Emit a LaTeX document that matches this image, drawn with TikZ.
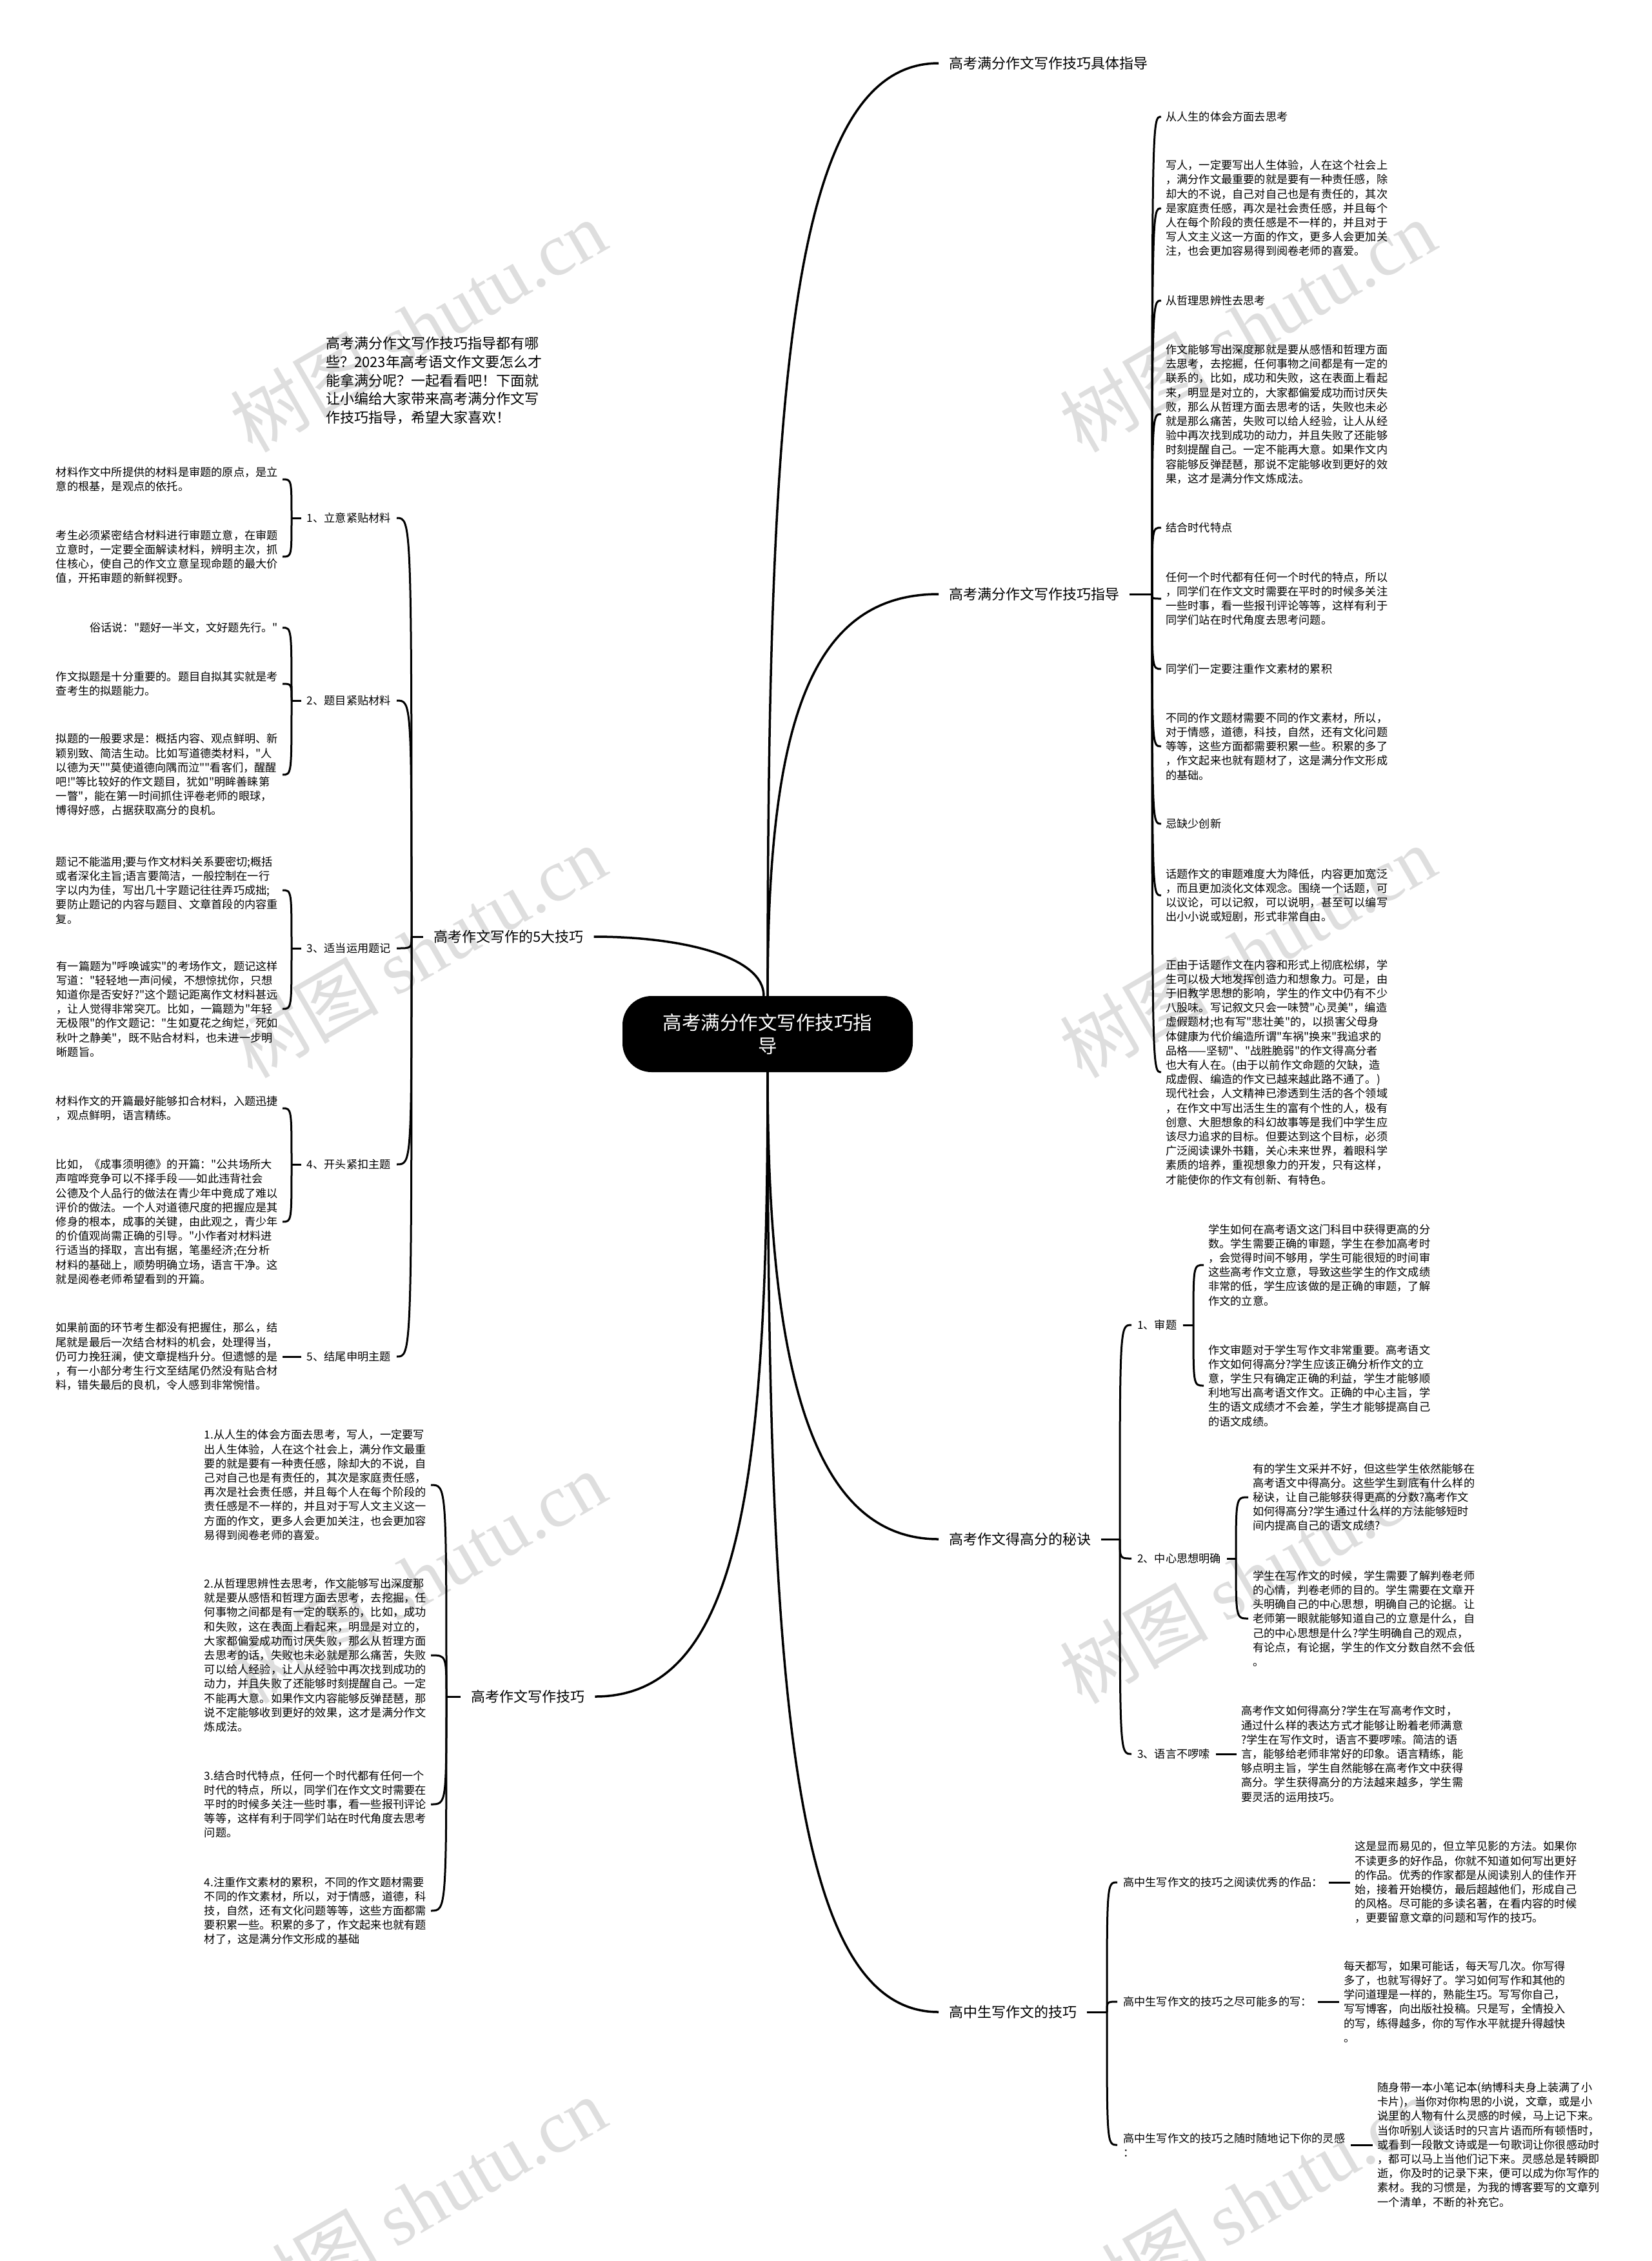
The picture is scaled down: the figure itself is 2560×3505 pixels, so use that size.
\documentclass[tikz,border=0pt]{standalone}
\usepackage{fontspec}
\setmainfont{Noto Sans CJK SC}[Ligatures=TeXOff]
\newfontfamily\wmfont{Liberation Serif}
\usetikzlibrary{
    positioning,
    calc,
}

\begin{document}
\begin{tikzpicture}[
    x=1pt, y=-1pt,
    root/.style={fill=black, text=white, rounded corners=45pt, minimum width=450pt, minimum height=118pt, align=center, font=\fontsize{29.5}{36}\selectfont},
    branch/.style={inner xsep=16pt, inner ysep=4pt, font=\fontsize{22}{28}\selectfont},
    topic/.style={inner xsep=9pt, inner ysep=3pt, align=left, font=\fontsize{17.2}{22.2}\selectfont},
    leaf/.style={inner xsep=7pt, inner ysep=0pt, align=left, font=\fontsize{17.2}{22.2}\selectfont},
    intro/.style={inner sep=0pt, align=left, font=\fontsize{22}{28.7}\selectfont},
    link/.style={line width=3pt},
    trunk/.style={line width=3.5pt},
    wmark/.style={text=black!13, rotate=30, font=\fontsize{115}{115}\selectfont},
]

\fill[white] (0,0) rectangle (2560,3505);
\useasboundingbox (0,0) rectangle (2560,3505);

% watermarks
\foreach \x in {648,1934}
    \foreach \y in {505,1475,2445,3415}
        \node[wmark] (wm-\x-\y) at (\x,\y) {树图 {\wmfont shutu.cn}};

% centre
\node[root] (root) at (1190,1603) {高考满分作文写作技巧指\\导};

% main branches
\node[branch, anchor=west] (b1) at (1455,98) {高考满分作文写作技巧具体指导};
\node[branch, anchor=west] (b2) at (1455,921) {高考满分作文写作技巧指导};
\node[branch, anchor=west] (b3) at (1455,2386) {高考作文得高分的秘诀};
\node[branch, anchor=west] (b4) at (1455,3119) {高中生写作文的技巧};
\node[branch, anchor=west] (b5) at (656,1452) {高考作文写作的5大技巧};
\node[branch, anchor=west] (b6) at (714,2630) {高考作文写作技巧};

\node[intro, anchor=west] (intro) at (505,590) {高考满分作文写作技巧指导都有哪\\些？2023年高考语文作文要怎么才\\能拿满分呢？一起看看吧！下面就\\让小编给大家带来高考满分作文写\\作技巧指导，希望大家喜欢！};

\draw[trunk] (root.north) .. controls +(0,-950) and +(-230,0) .. (b1.west);
\draw[trunk] (root.north) .. controls +(0,-420) and +(-200,0) .. (b2.west);
\draw[trunk] ([xshift=-6pt]root.north) .. controls +(0,-60) and +(140,0) .. (b5.east);
\draw[trunk] (root.south) .. controls +(0,450) and +(-200,0) .. (b3.west);
\draw[trunk] (root.south) .. controls +(0,950) and +(-230,0) .. (b4.west);
\draw[trunk] (root.south) .. controls +(0,620) and +(230,0) .. (b6.east);

% right: 写作技巧指导
\coordinate (j2) at (1786,921);
\draw[link] (b2.east) -- (j2);
\node[leaf, anchor=west] (r1) at (1800,181) {从人生的体会方面去思考};
\node[leaf, anchor=west] (r2) at (1800,323) {写人，一定要写出人生体验，人在这个社会上\\，满分作文最重要的就是要有一种责任感，除\\却大的不说，自己对自己也是有责任的，其次\\是家庭责任感，再次是社会责任感，并且每个\\人在每个阶段的责任感是不一样的，并且对于\\写人文主义这一方面的作文，更多人会更加关\\注，也会更加容易得到阅卷老师的喜爱。};
\node[leaf, anchor=west] (r3) at (1800,466) {从哲理思辨性去思考};
\node[leaf, anchor=west] (r4) at (1800,642) {作文能够写出深度那就是要从感悟和哲理方面\\去思考，去挖掘，任何事物之间都是有一定的\\联系的，比如，成功和失败，这在表面上看起\\来，明显是对立的，大家都偏爱成功而讨厌失\\败，那么从哲理方面去思考的话，失败也未必\\就是那么痛苦，失败可以给人经验，让人从经\\验中再次找到成功的动力，并且失败了还能够\\时刻提醒自己。一定不能再大意。如果作文内\\容能够反弹琵琶，那说不定能够收到更好的效\\果，这才是满分作文炼成法。};
\node[leaf, anchor=west] (r5) at (1800,818) {结合时代特点};
\node[leaf, anchor=west] (r6) at (1800,928) {任何一个时代都有任何一个时代的特点，所以\\，同学们在作文文时需要在平时的时候多关注\\一些时事，看一些报刊评论等等，这样有利于\\同学们站在时代角度去思考问题。};
\node[leaf, anchor=west] (r7) at (1800,1037) {同学们一定要注重作文素材的累积};
\node[leaf, anchor=west] (r8) at (1800,1157) {不同的作文题材需要不同的作文素材，所以，\\对于情感，道德，科技，自然，还有文化问题\\等等，这些方面都需要积累一些。积累的多了\\，作文起来也就有题材了，这是满分作文形成\\的基础。};
\node[leaf, anchor=west] (r9) at (1800,1277) {忌缺少创新};
\node[leaf, anchor=west] (r10) at (1800,1388) {话题作文的审题难度大为降低，内容更加宽泛\\，而且更加淡化文体观念。围绕一个话题，可\\以议论，可以记叙，可以说明，甚至可以编写\\出小小说或短剧，形式非常自由。};
\node[leaf, anchor=west] (r11) at (1800,1662) {正由于话题作文在内容和形式上彻底松绑，学\\生可以极大地发挥创造力和想象力。可是，由\\于旧教学思想的影响，学生的作文中仍有不少\\八股味。写记叙文只会一味赞"心灵美"，编造\\虚假题材;也有写"悲壮美"的，以损害父母身\\体健康为代价编造所谓"车祸"换来"我追求的\\品格——坚韧"、"战胜脆弱"的作文得高分者\\也大有人在。(由于以前作文命题的欠缺，造\\成虚假、编造的作文已越来越此路不通了。)\\现代社会，人文精神已渗透到生活的各个领域\\，在作文中写出活生生的富有个性的人，极有\\创意、大胆想象的科幻故事等是我们中学生应\\该尽力追求的目标。但要达到这个目标，必须\\广泛阅读课外书籍，关心未来世界，着眼科学\\素质的培养，重视想象力的开发，只有这样，\\才能使你的作文有创新、有特色。};
\foreach \i in {1,...,11}
    \draw[link] (j2) .. controls (j2 |- r\i.west) .. (r\i.west);

% right: 得高分的秘诀
\coordinate (j3) at (1736,2386);
\draw[link] (b3.east) -- (j3);
\node[topic, anchor=west] (s1) at (1754,2054) {1、审题};
\node[topic, anchor=west] (s2) at (1754,2416) {2、中心思想明确};
\node[topic, anchor=west] (s3) at (1754,2719) {3、语言不啰嗦};
\foreach \i in {1,2,3}
    \draw[link] (j3) .. controls (j3 |- s\i.west) .. (s\i.west);

\coordinate (js1) at (1850,2054);
\draw[link] (s1.east) -- (js1);
\node[leaf, anchor=west] (s1a) at (1866,1961) {学生如何在高考语文这门科目中获得更高的分\\数。学生需要正确的审题，学生在参加高考时\\，会觉得时间不够用，学生可能很短的时间审\\这些高考作文立意，导致这些学生的作文成绩\\非常的低，学生应该做的是正确的审题，了解\\作文的立意。};
\node[leaf, anchor=west] (s1b) at (1866,2148) {作文审题对于学生写作文非常重要。高考语文\\作文如何得高分?学生应该正确分析作文的立\\意，学生只有确定正确的利益，学生才能够顺\\利地写出高考语文作文。正确的中心主旨，学\\生的语文成绩才不会差，学生才能够提高自己\\的语文成绩。};
\foreach \c in {s1a,s1b}
    \draw[link] (js1) .. controls (js1 |- \c.west) .. (\c.west);

\coordinate (js2) at (1916,2416);
\draw[link] (s2.east) -- (js2);
\node[leaf, anchor=west] (s2a) at (1935,2321) {有的学生文采并不好，但这些学生依然能够在\\高考语文中得高分。这些学生到底有什么样的\\秘诀，让自己能够获得更高的分数?高考作文\\如何得高分?学生通过什么样的方法能够短时\\间内提高自己的语文成绩?};
\node[leaf, anchor=west] (s2b) at (1935,2509) {学生在写作文的时候，学生需要了解判卷老师\\的心情，判卷老师的目的。学生需要在文章开\\头明确自己的中心思想，明确自己的论据。让\\老师第一眼就能够知道自己的立意是什么，自\\己的中心思想是什么?学生明确自己的观点，\\有论点，有论据，学生的作文分数自然不会低\\。};
\foreach \c in {s2a,s2b}
    \draw[link] (js2) .. controls (js2 |- \c.west) .. (\c.west);

\node[leaf, right=32pt of s3] (s3a) {高考作文如何得高分?学生在写高考作文时，\\通过什么样的表达方式才能够让盼着老师满意\\?学生在写作文时，语言不要啰嗦。简洁的语\\言，能够给老师非常好的印象。语言精练，能\\够点明主旨，学生自然能够在高考作文中获得\\高分。学生获得高分的方法越来越多，学生需\\要灵活的运用技巧。};
\draw[link] (s3) -- (s3a);

% right: 高中生写作文的技巧
\coordinate (j4) at (1716,3119);
\draw[link] (b4.east) -- (j4);
\node[topic, anchor=west] (c1) at (1732,2918) {高中生写作文的技巧之阅读优秀的作品：};
\node[topic, anchor=west] (c2) at (1732,3103) {高中生写作文的技巧之尽可能多的写：};
\node[topic, anchor=west] (c3) at (1732,3325) {高中生写作文的技巧之随时随地记下你的灵感\\：};
\foreach \i in {1,2,3}
    \draw[link] (j4) .. controls (j4 |- c\i.west) .. (c\i.west);

\node[leaf, right=33pt of c1] (c1a) {这是显而易见的，但立竿见影的方法。如果你\\不读更多的好作品，你就不知道如何写出更好\\的作品。优秀的作家都是从阅读别人的佳作开\\始，接着开始模仿，最后超越他们，形成自己\\的风格。尽可能的多读名著，在看内容的时候\\，更要留意文章的问题和写作的技巧。};
\node[leaf, right=33pt of c2] (c2a) {每天都写，如果可能话，每天写几次。你写得\\多了，也就写得好了。学习如何写作和其他的\\学问道理是一样的，熟能生巧。写写你自己，\\写写博客，向出版社投稿。只是写，全情投入\\的写，练得越多，你的写作水平就提升得越快\\。};
\node[leaf, right=34pt of c3] (c3a) {随身带一本小笔记本(纳博科夫身上装满了小\\卡片)，当你对你构思的小说，文章，或是小\\说里的人物有什么灵感的时候，马上记下来。\\当你听别人谈话时的只言片语而所有顿悟时，\\或看到一段散文诗或是一句歌词让你很感动时\\，都可以马上当他们记下来。灵感总是转瞬即\\逝，你及时的记录下来，便可以成为你写作的\\素材。我的习惯是，为我的博客要写的文章列\\一个清单，不断的补充它。};
\foreach \i in {1,2,3}
    \draw[link] (c\i) -- (c\i a);

% left: 5大技巧
\coordinate (j5) at (638,1452);
\draw[link] (b5.west) -- (j5);
\node[topic, anchor=east] (L1) at (615,803) {1、立意紧贴材料};
\node[topic, anchor=east] (L2) at (615,1086) {2、题目紧贴材料};
\node[topic, anchor=east] (L3) at (615,1470) {3、适当运用题记};
\node[topic, anchor=east] (L4) at (615,1805) {4、开头紧扣主题};
\node[topic, anchor=east] (L5) at (615,2103) {5、结尾申明主题};
\foreach \i in {1,...,5}
    \draw[link] (j5) .. controls (j5 |- L\i.east) .. (L\i.east);

\coordinate (jl1) at (452,803);
\draw[link] (L1.west) -- (jl1);
\node[leaf, anchor=east] (L1a) at (438,743) {材料作文中所提供的材料是审题的原点，是立\\意的根基，是观点的依托。};
\node[leaf, anchor=east] (L1b) at (438,863) {考生必须紧密结合材料进行审题立意，在审题\\立意时，一定要全面解读材料，辨明主次，抓\\住核心，使自己的作文立意呈现命题的最大价\\值，开拓审题的新鲜视野。};
\foreach \c in {L1a,L1b}
    \draw[link] (jl1) .. controls (jl1 |- \c.east) .. (\c.east);

\coordinate (jl2) at (452,1086);
\draw[link] (L2.west) -- (jl2);
\node[leaf, anchor=east] (L2a) at (438,973) {俗话说："题好一半文，文好题先行。"};
\node[leaf, anchor=east] (L2b) at (438,1060) {作文拟题是十分重要的。题目自拟其实就是考\\查考生的拟题能力。};
\node[leaf, anchor=east] (L2c) at (438,1201) {拟题的一般要求是：概括内容、观点鲜明、新\\颖别致、简洁生动。比如写道德类材料，"人\\以德为天""莫使道德向隅而泣""看客们，醒醒\\吧!"等比较好的作文题目，犹如"明眸善睐第\\一瞥"，能在第一时间抓住评卷老师的眼球，\\博得好感，占据获取高分的良机。};
\foreach \c in {L2a,L2b,L2c}
    \draw[link] (jl2) .. controls (jl2 |- \c.east) .. (\c.east);

\coordinate (jl3) at (452,1470);
\draw[link] (L3.west) -- (jl3);
\node[leaf, anchor=east] (L3a) at (438,1380) {题记不能滥用;要与作文材料关系要密切;概括\\或者深化主旨;语言要简洁，一般控制在一行\\字以内为佳，写出几十字题记往往弄巧成拙;\\要防止题记的内容与题目、文章首段的内容重\\复。};
\node[leaf, anchor=east] (L3b) at (438,1564) {有一篇题为"呼唤诚实"的考场作文，题记这样\\写道："轻轻地一声问候，不想惊扰你，只想\\知道你是否安好?"这个题记距离作文材料甚远\\，让人觉得非常突兀。比如，一篇题为"年轻\\无极限"的作文题记："生如夏花之绚烂，死如\\秋叶之静美"，既不贴合材料，也未进一步明\\晰题旨。};
\foreach \c in {L3a,L3b}
    \draw[link] (jl3) .. controls (jl3 |- \c.east) .. (\c.east);

\coordinate (jl4) at (452,1805);
\draw[link] (L4.west) -- (jl4);
\node[leaf, anchor=east] (L4a) at (438,1718) {材料作文的开篇最好能够扣合材料，入题迅捷\\，观点鲜明，语言精练。};
\node[leaf, anchor=east] (L4b) at (438,1894) {比如，《成事须明德》的开篇："公共场所大\\声喧哗竞争可以不择手段——如此违背社会\\公德及个人品行的做法在青少年中竟成了难以\\评价的做法。一个人对道德尺度的把握应是其\\修身的根本，成事的关键，由此观之，青少年\\的价值观尚需正确的引导。"小作者对材料进\\行适当的择取，言出有据，笔墨经济;在分析\\材料的基础上，顺势明确立场，语言干净。这\\就是阅卷老师希望看到的开篇。};
\foreach \c in {L4a,L4b}
    \draw[link] (jl4) .. controls (jl4 |- \c.east) .. (\c.east);

\node[leaf, left=29pt of L5] (L5a) {如果前面的环节考生都没有把握住，那么，结\\尾就是最后一次结合材料的机会，处理得当，\\仍可力挽狂澜，使文章提档升分。但遗憾的是\\，有一小部分考生行文至结尾仍然没有贴合材\\料，错失最后的良机，令人感到非常惋惜。};
\draw[link] (L5) -- (L5a);

% left: 写作技巧
\coordinate (j6) at (692,2630);
\draw[link] (b6.west) -- (j6);
\node[leaf, anchor=east] (T1) at (668,2302) {1.从人生的体会方面去思考，写人，一定要写\\出人生体验，人在这个社会上，满分作文最重\\要的就是要有一种责任感，除却大的不说，自\\己对自己也是有责任的，其次是家庭责任感，\\再次是社会责任感，并且每个人在每个阶段的\\责任感是不一样的，并且对于写人文主义这一\\方面的作文，更多人会更加关注，也会更加容\\易得到阅卷老师的喜爱。};
\node[leaf, anchor=east] (T2) at (668,2566) {2.从哲理思辨性去思考，作文能够写出深度那\\就是要从感悟和哲理方面去思考，去挖掘，任\\何事物之间都是有一定的联系的，比如，成功\\和失败，这在表面上看起来，明显是对立的，\\大家都偏爱成功而讨厌失败，那么从哲理方面\\去思考的话，失败也未必就是那么痛苦，失败\\可以给人经验，让人从经验中再次找到成功的\\动力，并且失败了还能够时刻提醒自己。一定\\不能再大意。如果作文内容能够反弹琵琶，那\\说不定能够收到更好的效果，这才是满分作文\\炼成法。};
\node[leaf, anchor=east] (T3) at (668,2797) {3.结合时代特点，任何一个时代都有任何一个\\时代的特点，所以，同学们在作文文时需要在\\平时的时候多关注一些时事，看一些报刊评论\\等等，这样有利于同学们站在时代角度去思考\\问题。};
\node[leaf, anchor=east] (T4) at (668,2962) {4.注重作文素材的累积，不同的作文题材需要\\不同的作文素材，所以，对于情感，道德，科\\技，自然，还有文化问题等等，这些方面都需\\要积累一些。积累的多了，作文起来也就有题\\材了，这是满分作文形成的基础};
\foreach \i in {1,...,4}
    \draw[link] (j6) .. controls (j6 |- T\i.east) .. (T\i.east);

\end{tikzpicture}
\end{document}
